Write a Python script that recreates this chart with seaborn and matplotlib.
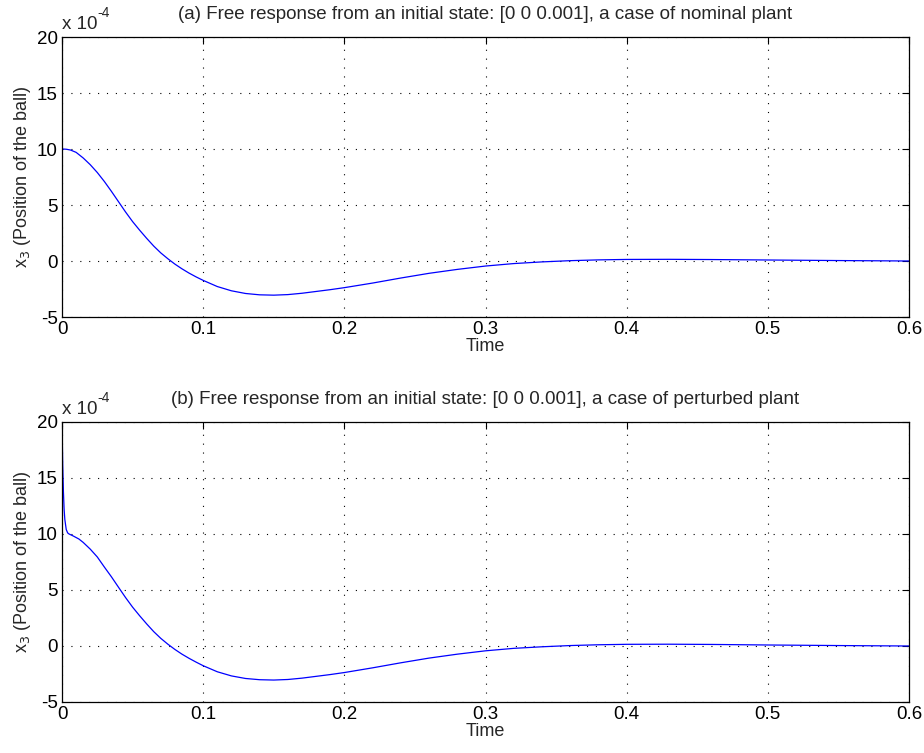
import pandas as pd
import seaborn as sns
import matplotlib.pyplot as plt

# time axis and ball position (units of 1e-4)
t_nominal = [0, 0.003, 0.006, 0.01, 0.015, 0.02, 0.025, 0.03, 0.035, 0.04, 0.045,
             0.05, 0.055, 0.06, 0.065, 0.07, 0.075, 0.08, 0.085, 0.09, 0.095, 0.1,
             0.11, 0.12, 0.13, 0.14, 0.15, 0.16, 0.17, 0.18, 0.19, 0.2, 0.22, 0.24,
             0.26, 0.28, 0.3, 0.32, 0.34, 0.36, 0.38, 0.4, 0.43, 0.46, 0.5, 0.55, 0.6]
x3_nominal = [10, 9.98, 9.91, 9.7, 9.2, 8.6, 7.9, 7.1, 6.22, 5.3, 4.38,
              3.52, 2.75, 2.02, 1.33, 0.72, 0.2, -0.28, -0.7, -1.08, -1.42, -1.73,
              -2.28, -2.66, -2.9, -3.02, -3.05, -3.0, -2.88, -2.72, -2.56, -2.38, -1.97, -1.52,
              -1.1, -0.75, -0.45, -0.23, -0.08, 0.03, 0.1, 0.14, 0.15, 0.13, 0.09, 0.04, 0.0]

t_perturbed = [0, 0.0005, 0.001, 0.0015, 0.002, 0.003, 0.004, 0.005, 0.008, 0.012,
               0.015, 0.02, 0.025, 0.03, 0.035, 0.04, 0.045, 0.05, 0.055, 0.06, 0.065,
               0.07, 0.075, 0.08, 0.085, 0.09, 0.095, 0.1, 0.11, 0.12, 0.13, 0.14, 0.15,
               0.16, 0.17, 0.18, 0.19, 0.2, 0.22, 0.24, 0.26, 0.28, 0.3, 0.32, 0.34,
               0.36, 0.38, 0.4, 0.43, 0.46, 0.5, 0.55, 0.6]
x3_perturbed = [20, 16.2, 13.8, 12.2, 11.3, 10.4, 10.1, 10.0, 9.82, 9.55,
                9.25, 8.65, 7.95, 7.05, 6.18, 5.25, 4.33, 3.47, 2.7, 1.97, 1.28,
                0.68, 0.16, -0.31, -0.73, -1.1, -1.44, -1.76, -2.3, -2.67, -2.9, -3.01, -3.04,
                -2.99, -2.87, -2.71, -2.55, -2.37, -1.95, -1.5, -1.08, -0.73, -0.43, -0.21, -0.07,
                0.04, 0.11, 0.15, 0.16, 0.14, 0.09, 0.04, 0.0]

titles = ["(a) Free response from an initial state: [0 0 0.001], a case of nominal plant",
          "(b) Free response from an initial state: [0 0 0.001], a case of perturbed plant"]
x_ticks = [0, 0.1, 0.2, 0.3, 0.4, 0.5, 0.6]
x_tick_labels = ["0", "0.1", "0.2", "0.3", "0.4", "0.5", "0.6"]
y_ticks = [-5, 0, 5, 10, 15, 20]

sns.set_style("white")
plt.rcParams['font.family'] = ['Liberation Sans', 'DejaVu Sans']
plt.rcParams['axes.unicode_minus'] = False

fig = plt.figure(figsize=(9.24, 7.53), dpi=100)
W, H = 924, 753
boxes = [(62, 37, 909, 317), (62, 422, 909, 702)]
series = [(t_nominal, x3_nominal), (t_perturbed, x3_perturbed)]

for (l, top, r, bot), (t, x3), title in zip(boxes, series, titles):
    ax = fig.add_axes([l / W, 1 - bot / H, (r - l) / W, (bot - top) / H])
    df = pd.DataFrame({"Time": t, "x3": x3})
    sns.lineplot(data=df, x="Time", y="x3", ax=ax, color=(0, 0, 1), linewidth=0.9)
    ax.set_xlim(0, 0.6)
    ax.set_ylim(-5, 20)
    ax.set_xticks(x_ticks)
    ax.set_xticklabels(x_tick_labels)
    ax.set_yticks(y_ticks)
    ax.grid(True, color="black", linestyle=(0, (1, 7)), linewidth=0.8)
    ax.tick_params(direction="in", top=True, right=True, length=5, width=0.8,
                   labelsize=13.5, colors="black", pad=3)
    for sp in ax.spines.values():
        sp.set_color("black")
        sp.set_linewidth(0.9)
    ax.set_xlabel("Time", fontsize=13, labelpad=0)
    ax.set_ylabel("x$_3$ (Position of the ball)", fontsize=13, labelpad=3)
    ax.set_title(title, fontsize=13.5, pad=13)
    # MATLAB-style exponent label above the y axis
    base = ax.text(0, 1.015, "x 10", transform=ax.transAxes, fontsize=13.5,
                   ha="left", va="bottom")
    ax.annotate("-4", xy=(1, 0.75), xycoords=base, fontsize=10,
                ha="left", va="bottom")

fig.savefig("out.png", dpi=100)
